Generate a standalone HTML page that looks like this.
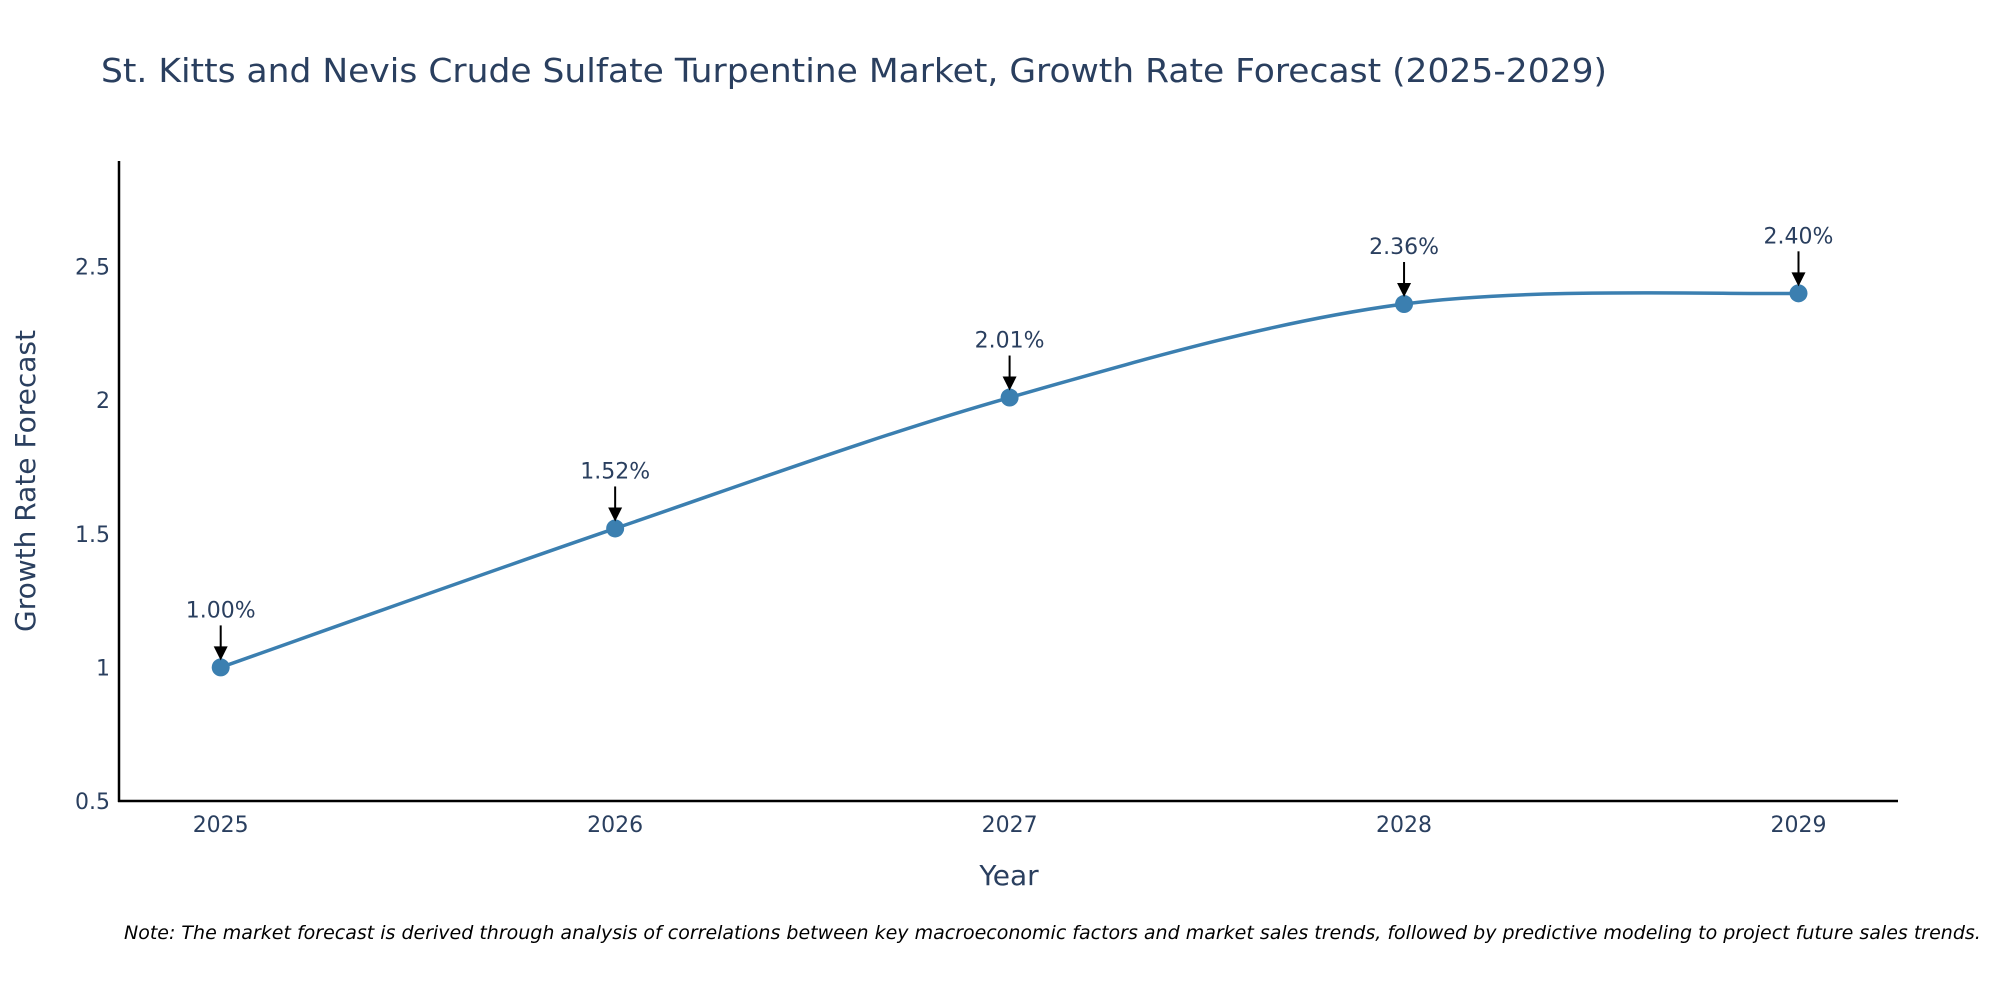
<!DOCTYPE html>
<html><head><meta charset="utf-8"><style>
html,body{margin:0;padding:0;background:#fff;width:2000px;height:1000px;overflow:hidden}
svg text{font-family:"DejaVu Sans","Liberation Sans",sans-serif;fill:#2a3f5f}
</style></head><body>
<svg id="chart" width="2000" height="1000" xmlns="http://www.w3.org/2000/svg">
<text x="101" y="82" font-size="33" textLength="1506" lengthAdjust="spacingAndGlyphs">St. Kitts and Nevis Crude Sulfate Turpentine Market, Growth Rate Forecast (2025-2029)</text>
<g id="ticks"></g>
<g id="series"></g>
<g id="annots"></g>
<line x1="119" y1="161" x2="119" y2="802" stroke="#000" stroke-width="2.5"/>
<line x1="118" y1="801" x2="1898" y2="801" stroke="#000" stroke-width="2.5"/>
<text x="1009" y="885" font-size="28" text-anchor="middle">Year</text>
<text transform="translate(35,481) rotate(-90)" font-size="28" text-anchor="middle" textLength="302" lengthAdjust="spacingAndGlyphs">Growth Rate Forecast</text>
<text x="124" y="939" font-size="19" font-style="italic" fill="#000" style="fill:#000">Note: The market forecast is derived through analysis of correlations between key macroeconomic factors and market sales trends, followed by predictive modeling to project future sales trends.</text>
</svg>
<script>
const years = [2025, 2026, 2027, 2028, 2029];
const growth = [1.00, 1.52, 2.01, 2.36, 2.40];
const labels = ["1.00%", "1.52%", "2.01%", "2.36%", "2.40%"];
const yTicks = [0.5, 1, 1.5, 2, 2.5];
const yTickLabels = ["0.5", "1", "1.5", "2", "2.5"];

const NS = "http://www.w3.org/2000/svg";
const xS = v => 220.7 + (v - 2025) * 394.45;
const yS = v => 801 - (v - 0.5) * 267.2;
function mk(tag, attrs, parent, txt){
  const e = document.createElementNS(NS, tag);
  for (const k in attrs) e.setAttribute(k, attrs[k]);
  if (txt !== undefined) e.textContent = txt;
  parent.appendChild(e); return e;
}
const ticks = document.getElementById('ticks');
yTicks.forEach((t, i) => {
  const e = mk('text', {x: 110, y: yS(t) + 8, 'font-size': 22, 'text-anchor': 'end'}, ticks, yTickLabels[i]);
  
  
});
years.forEach(y => {
  const e = mk('text', {x: xS(y), y: 832, 'font-size': 22, 'text-anchor': 'middle'}, ticks, String(y));
  
  
});
// spline path (Catmull-Rom)
const pts = years.map((y, i) => [xS(y), yS(growth[i])]);
let d = `M${pts[0][0]},${pts[0][1]}`;
for (let i = 0; i < pts.length - 1; i++) {
  const p0 = pts[i - 1] || pts[i], p1 = pts[i], p2 = pts[i + 1], p3 = pts[i + 2] || p2;
  const t = 1/6;
  d += ` C${p1[0] + (p2[0] - p0[0]) * t},${p1[1] + (p2[1] - p0[1]) * t} ${p2[0] - (p3[0] - p1[0]) * t},${p2[1] - (p3[1] - p1[1]) * t} ${p2[0]},${p2[1]}`;
}
const series = document.getElementById('series');
const line = mk('path', {d: d, fill: 'none', stroke: '#3b7fb0', 'stroke-width': 3.5}, series);


const annots = document.getElementById('annots');
pts.forEach((p, i) => {
  const c = mk('circle', {cx: p[0], cy: p[1], r: 9, fill: '#3b7fb0'}, series);
  
  
  const a = mk('line', {x1: p[0], y1: p[1] - 42, x2: p[0], y2: p[1] - 20, stroke: '#000', 'stroke-width': 2}, annots);
  
  
  const h = mk('path', {d: `M${p[0]-7},${p[1]-21} L${p[0]+7},${p[1]-21} L${p[0]},${p[1]-7} Z`, fill: '#000'}, annots);
  
  
  const t = mk('text', {x: p[0], y: p[1] - 50, 'font-size': 22, 'text-anchor': 'middle'}, annots, labels[i]);
  
  
});
</script>
</body></html>
